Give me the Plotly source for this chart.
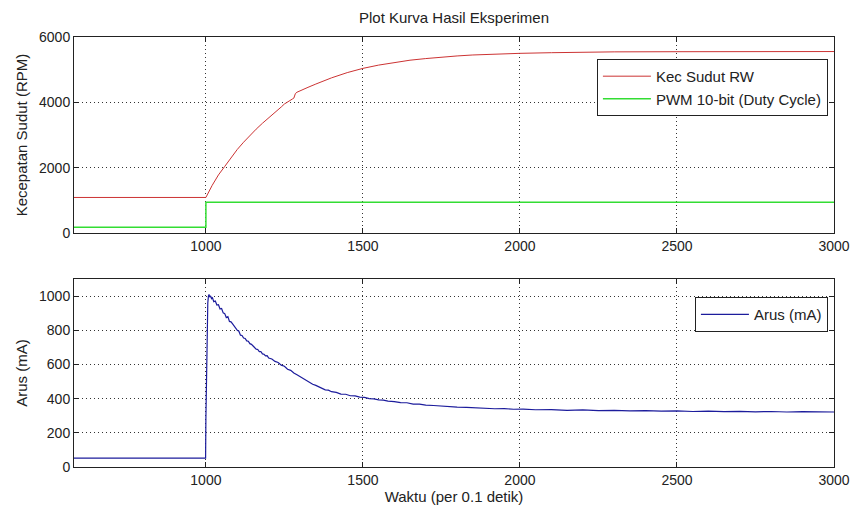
import plotly.graph_objects as go
from plotly.subplots import make_subplots

title_text = "Plot Kurva Hasil Eksperimen"
x_title = "Waktu (per 0.1 detik)"
y1_title = "Kecepatan Sudut (RPM)"
y2_title = "Arus (mA)"

speed_t = [580, 1000, 1020, 1040, 1060, 1080, 1100, 1120, 1140, 1160, 1180, 1200, 1220, 1235,
           1240, 1250, 1260, 1275, 1280, 1285, 1290, 1300, 1325, 1350, 1400, 1450, 1500, 1550,
           1600, 1650, 1700, 1750, 1800, 1850, 1900, 1950, 2000, 2100, 2200, 2300, 2500, 2800, 3000]
speed_v = [1090, 1090, 1460, 1780, 2040, 2310, 2560, 2780, 2990, 3180, 3360, 3520, 3680, 3820,
           3860, 3950, 4020, 4100, 4130, 4270, 4310, 4360, 4460, 4560, 4750, 4910, 5040, 5140,
           5220, 5290, 5340, 5390, 5420, 5450, 5470, 5490, 5500, 5520, 5535, 5545, 5550, 5555, 5555]

pwm_t = [580, 1000, 3000]
pwm_v = [180, 940, 940]

cur_t = [580, 999, 1000, 1002, 1004, 1006, 1008, 1010, 1012, 1015,
         1018, 1021, 1025, 1030, 1035, 1040, 1045, 1050, 1055, 1060,
         1065, 1070, 1075, 1080, 1085, 1090, 1095, 1100, 1105, 1110,
         1115, 1120, 1125, 1130, 1135, 1140, 1145, 1150, 1155, 1160,
         1165, 1170, 1175, 1180, 1185, 1190, 1195, 1200, 1210, 1220,
         1230, 1240, 1250, 1260, 1270, 1280, 1290, 1300, 1310, 1320,
         1330, 1340, 1350, 1360, 1370, 1380, 1390, 1400, 1415, 1430,
         1445, 1460, 1475, 1490, 1505, 1520, 1535, 1550, 1565, 1580,
         1600, 1620, 1640, 1660, 1680, 1700, 1725, 1750, 1775, 1800,
         1830, 1860, 1890, 1920, 1950, 1980, 2010, 2050, 2100, 2150,
         2200, 2250, 2300, 2350, 2400, 2450, 2500, 2550, 2600, 2650,
         2700, 2750, 2800, 2850, 2900, 2950, 3000]
cur_v = [52, 52, 285, 620, 860, 960, 1000, 1010, 995, 1002,
         985, 990, 968, 972, 948, 950, 925, 928, 902, 898,
         875, 880, 852, 850, 838, 825, 818, 800, 795, 772,
         770, 755, 752, 738, 736, 722, 718, 708, 703, 690,
         688, 675, 676, 662, 660, 650, 652, 638, 632, 618,
         612, 596, 590, 572, 566, 550, 540, 528, 516, 505,
         496, 484, 478, 468, 462, 452, 450, 441, 437, 427,
         426, 417, 416, 409, 408, 400, 399, 393, 392, 386,
         383, 377, 376, 368, 368, 362, 360, 356, 355, 350,
         349, 345, 345, 341, 342, 338, 339, 335, 336, 332,
         334, 330, 331, 328, 330, 327, 329, 325, 327, 324,
         326, 323, 325, 322, 324, 321, 322]

x_ticks = [1000, 1500, 2000, 2500, 3000]
y1_ticks = [0, 2000, 4000, 6000]
y2_ticks = [0, 200, 400, 600, 800, 1000]

FONT = "Liberation Sans, Arial, sans-serif"
FS = 14      # tick labels
TS = 15      # titles, legend

fig = make_subplots(rows=2, cols=1)

fig.add_trace(go.Scatter(x=speed_t, y=speed_v, mode="lines", name="Kec Sudut RW",
                         line=dict(color="#cc3333", width=1), legend="legend"), row=1, col=1)
fig.add_trace(go.Scatter(x=pwm_t, y=pwm_v, mode="lines", name="PWM 10-bit (Duty Cycle)",
                         line=dict(color="#33dd33", width=1.5, shape="hv"), legend="legend"), row=1, col=1)
fig.add_trace(go.Scatter(x=cur_t, y=cur_v, mode="lines", name="Arus (mA)",
                         line=dict(color="#1c1c9c", width=1.2), legend="legend2"), row=2, col=1)

axis_common = dict(showline=True, linecolor="#222", linewidth=1, mirror="allticks",
                   ticks="inside", ticklen=5, tickcolor="#222", automargin=False,
                   showgrid=True, gridcolor="#333", griddash="1px,3px", gridwidth=1,
                   zeroline=False, tickfont=dict(size=FS, color="#222", family=FONT))

fig.update_xaxes(range=[580, 3000], tickvals=x_ticks, **axis_common)
fig.update_yaxes(**axis_common)
fig.update_xaxes(domain=[0, 1])
fig.update_yaxes(range=[0, 6000], tickvals=y1_ticks, domain=[0.544, 1.0], row=1, col=1,
                 title=dict(text=y1_title, font=dict(size=TS, color="#222", family=FONT), standoff=7))
fig.update_yaxes(range=[0, 1100], tickvals=y2_ticks, domain=[0.0, 0.437], row=2, col=1,
                 title=dict(text=y2_title, font=dict(size=TS, color="#222", family=FONT), standoff=7))
fig.update_xaxes(row=2, col=1,
                 title=dict(text=x_title, font=dict(size=TS, color="#222", family=FONT), standoff=0))

fig.update_layout(
    width=851, height=506,
    margin=dict(l=74, r=17, t=37, b=39),
    paper_bgcolor="white", plot_bgcolor="white",
    font=dict(family=FONT, size=FS, color="#222"),
    title=dict(text=title_text, xref="paper", x=0.5, xanchor="center", y=0.964, yanchor="middle",
               font=dict(size=TS, color="#222", family=FONT)),
    legend=dict(x=0.992, y=0.949, xanchor="right", yanchor="top", bordercolor="#222", borderwidth=1,
                bgcolor="white", font=dict(size=TS, color="#222", family=FONT),
                tracegroupgap=0, itemwidth=48),
    legend2=dict(x=0.992, y=0.395, xanchor="right", yanchor="top", bordercolor="#222", borderwidth=1,
                 bgcolor="white", font=dict(size=TS, color="#222", family=FONT), itemwidth=48),
    showlegend=True,
)

fig.write_html("out.html", config={"displayModeBar": False},
               post_script="document.body.style.margin='0';document.body.style.overflow='hidden';")
